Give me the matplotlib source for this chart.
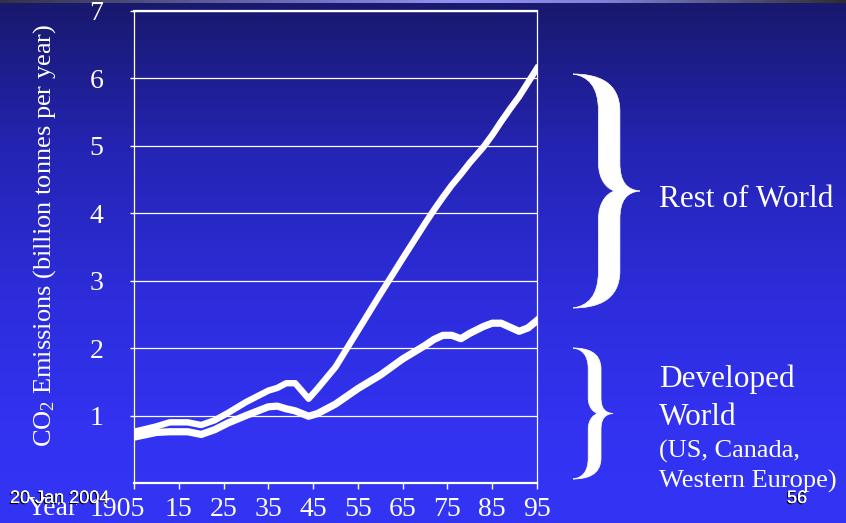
import matplotlib.pyplot as plt
import matplotlib.patheffects as pe
from matplotlib.path import Path
from matplotlib.patches import PathPatch
import numpy as np

plt.rcParams['font.family'] = ['Liberation Serif', 'DejaVu Serif']
plt.rcParams['mathtext.fontset'] = 'custom'
plt.rcParams['mathtext.rm'] = 'Liberation Serif'
plt.rcParams['mathtext.it'] = 'Liberation Serif:italic'

# данные (млрд тонн CO2 в год)
years = [1905, 1910, 1913, 1917, 1920, 1923, 1926, 1930, 1935, 1937, 1939,
         1941, 1944, 1946, 1950, 1955, 1960, 1965, 1970, 1972, 1974, 1976,
         1978, 1980, 1983, 1985, 1987, 1989, 1991, 1993, 1995]
world = [0.76, 0.84, 0.90, 0.90, 0.86, 0.93, 1.04, 1.20, 1.37, 1.41, 1.48,
         1.48, 1.25, 1.40, 1.72, 2.26, 2.80, 3.33, 3.85, 4.05, 4.24, 4.42,
         4.58, 4.75, 4.98, 5.16, 5.36, 5.55, 5.73, 5.94, 6.15]
developed = [0.68, 0.75, 0.76, 0.76, 0.72, 0.79, 0.89, 1.00, 1.13, 1.14, 1.10,
             1.07, 0.99, 1.03, 1.17, 1.40, 1.60, 1.84, 2.04, 2.13, 2.19, 2.19,
             2.14, 2.22, 2.32, 2.37, 2.37, 2.31, 2.25, 2.30, 2.41]

tick_years = [1905, 1915, 1925, 1935, 1945, 1955, 1965, 1975, 1985, 1995]
tick_labels = ['1905', '15', '25', '35', '45', '55', '65', '75', '85', '95']
y_ticks = [1, 2, 3, 4, 5, 6, 7]

W, H = 846, 523
fig = plt.figure(figsize=(W / 100, H / 100), dpi=100)

# фон - вертикальный градиент
bg = fig.add_axes([0, 0, 1, 1])
bg.set_axis_off()
stop_y = [0, 150, 300, 420, H]
stop_c = [(24, 24, 108), (36, 36, 180), (45, 45, 220), (50, 50, 240), (52, 52, 245)]
rows = np.arange(H)
grad = np.stack([np.interp(rows, stop_y, [c[i] for c in stop_c]) for i in range(3)], axis=-1)
bg.imshow(grad[:, None, :] / 255, aspect='auto', extent=[0, W, H, 0])

# тонкая полоска сверху
stop_x = [0, 300, 450, 600, W]
stop_s = [(50, 50, 70), (110, 110, 190), (145, 145, 240), (130, 130, 220), (45, 45, 45)]
cols = np.arange(W)
strip = np.stack([np.interp(cols, stop_x, [c[i] for c in stop_s]) for i in range(3)], axis=-1)
bg.imshow(strip[None, :, :] / 255, aspect='auto', extent=[0, W, 3, 0])
bg.set_xlim(0, W)
bg.set_ylim(H, 0)


def brace(x0, y0, w, h):
    sl, sr = 0.38, 0.70
    pts = [(0, 1),
           (0.35, 1.0), (sr, 0.97), (sr, 0.84),
           (sr, 0.62),
           (sr, 0.54), (0.8, 0.505), (1.0, 0.5),
           (0.8, 0.495), (sr, 0.46), (sr, 0.38),
           (sr, 0.16),
           (sr, 0.03), (0.35, 0.0), (0, 0),
           (0.22, 0.01), (sl, 0.05), (sl, 0.16),
           (sl, 0.38),
           (sl, 0.45), (0.5, 0.49), (0.62, 0.5),
           (0.5, 0.51), (sl, 0.55), (sl, 0.62),
           (sl, 0.84),
           (sl, 0.95), (0.22, 0.99), (0, 1),
           (0, 1)]
    codes = [Path.MOVETO] + [Path.CURVE4] * 3 + [Path.LINETO] + [Path.CURVE4] * 6 + \
            [Path.LINETO] + [Path.CURVE4] * 6 + [Path.LINETO] + [Path.CURVE4] * 6 + \
            [Path.LINETO] + [Path.CURVE4] * 3 + [Path.CLOSEPOLY]
    verts = [(x0 + u * w, y0 + (1 - v) * h) for u, v in pts]
    bg.add_patch(PathPatch(Path(verts, codes), facecolor='white', edgecolor='white', lw=0.5))


brace(573, 74, 67, 234)
brace(573, 348, 40, 131)

# основной график
ax = fig.add_axes([134 / W, 40 / H, 403 / W, 472 / H])
ax.set_facecolor('none')
ax.plot(years, world, color='white', lw=4.6, solid_joinstyle='round', zorder=3)
ax.plot(years, developed, color='white', lw=5.2, solid_joinstyle='round', zorder=3)
ax.set_xlim(1905, 1995)
ax.set_ylim(0, 7)
ax.set_yticks(y_ticks)
ax.set_xticks(tick_years, [''] + tick_labels[1:])
ax.yaxis.grid(True, color='white', lw=0.9)
for name, sp in ax.spines.items():
    sp.set_color('white')
    sp.set_linewidth(1.6 if name in ('top', 'bottom') else 0.9)
ax.tick_params(axis='y', colors='white', length=3, width=1, labelsize=20, pad=19)
ax.tick_params(axis='x', colors='white', length=4, width=1, labelsize=20, pad=6)
ax.annotate(tick_labels[0], xy=(tick_years[0], 0), xycoords='data',
            xytext=(-12, -10), textcoords='offset points',
            ha='center', va='top', color='white', fontsize=20, annotation_clip=False)

fig.text(45 / W, 1 - 235 / H, 'CO$_2$ Emissions (billion tonnes per year)',
         rotation=90, ha='center', va='center', fontsize=19, color='white')
fig.text(27 / W, 1 - 515 / H, 'Year', ha='left', va='baseline', fontsize=20, color='white')

fig.text(659 / W, 1 - 207 / H, 'Rest of World', ha='left', va='baseline', fontsize=22.5, color='white')
fig.text(659 / W, 1 - 387 / H, 'Developed', ha='left', va='baseline', fontsize=22.5, color='white')
fig.text(659 / W, 1 - 425 / H, 'World', ha='left', va='baseline', fontsize=22.5, color='white')
fig.text(659 / W, 1 - 458 / H, '(US, Canada,', ha='left', va='baseline', fontsize=19, color='white')
fig.text(659 / W, 1 - 488 / H, 'Western Europe)', ha='left', va='baseline', fontsize=19, color='white')

shadow = [pe.withSimplePatchShadow(offset=(-0.8, -0.8), shadow_rgbFace='black', alpha=1), pe.Normal()]
fig.text(10 / W, 1 - 503 / H, '20 Jan 2004', ha='left', va='baseline', fontsize=13,
         color='white', family='Liberation Sans', path_effects=shadow)
fig.text(787 / W, 1 - 503 / H, '56', ha='left', va='baseline', fontsize=13,
         color='white', family='Liberation Sans', path_effects=shadow)

fig.savefig('out.png', dpi=100)
plt.close(fig)
